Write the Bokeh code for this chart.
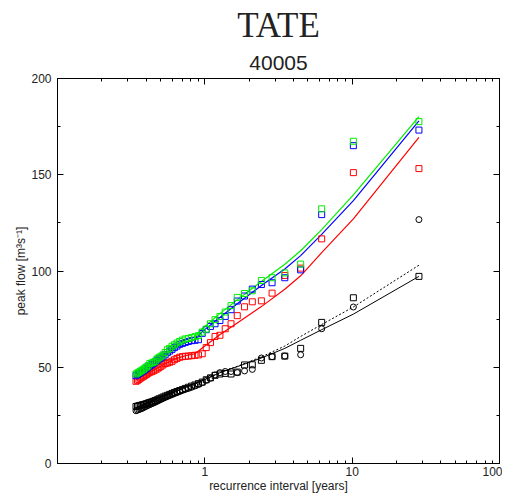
from bokeh.plotting import figure
from bokeh.models import FixedTicker, LinearAxis, LogAxis, Range1d, Title, BasicTickFormatter
from bokeh.embed import file_html
from bokeh.resources import INLINE

# recurrence interval [years] of each ranked peak
T = [28.39, 10.19, 6.21, 4.47, 3.49, 2.86, 2.42, 2.10, 1.86, 1.66,
     1.506, 1.375, 1.266, 1.173, 1.092, 1.022, 0.960, 0.905, 0.857, 0.813,
     0.773, 0.737, 0.705, 0.675, 0.647, 0.622, 0.599, 0.577, 0.557, 0.538,
     0.520, 0.504, 0.488, 0.474, 0.460, 0.447, 0.435, 0.423, 0.412, 0.402,
     0.392, 0.383, 0.374, 0.365, 0.357, 0.349, 0.341]

green_pts = [177.6, 167.4, 132.3, 103.6, 99.0, 96.5, 95.1, 89.7, 88.3, 86.3,
             82.0, 78.7, 76.4, 74.7, 72.6, 69.8, 68.3, 66.4, 65.9, 65.4,
             65.0, 64.7, 64.1, 63.4, 62.6, 61.7, 60.9, 59.8, 59.1, 57.7,
             56.4, 55.7, 55.0, 54.3, 53.1, 52.6, 52.2, 51.9, 50.8, 50.1,
             49.6, 48.9, 48.4, 47.9, 47.4, 47.0, 46.5]
blue_pts = [173.2, 165.1, 129.3, 100.6, 96.5, 93.9, 93.0, 90.6, 87.0, 84.4,
            79.9, 76.4, 74.3, 72.6, 71.2, 69.5, 67.6, 64.3, 64.0, 63.8,
            63.4, 62.9, 62.4, 61.9, 61.0, 60.2, 59.3, 58.4, 57.6, 56.5,
            55.7, 54.8, 54.3, 53.6, 52.7, 51.9, 51.3, 50.7, 50.1, 49.4,
            48.8, 48.2, 47.7, 47.2, 46.7, 46.2, 45.6]
red_pts = [153.2, 151.1, 116.7, 101.5, 97.7, 88.5, 84.5, 84.0, 81.4, 76.8,
           72.6, 70.0, 66.6, 66.0, 62.8, 60.2, 57.0, 56.4, 56.2, 56.0,
           55.8, 55.7, 55.5, 55.2, 54.6, 53.9, 53.1, 52.6, 52.2, 51.9,
           51.2, 50.5, 49.8, 49.1, 48.6, 48.1, 47.7, 47.4, 46.9, 46.3,
           45.8, 45.3, 44.8, 44.3, 43.7, 43.2, 42.7]
black_sq_pts = [97.2, 86.1, 73.3, 59.8, 55.8, 55.5, 53.6, 51.3, 51.2, 47.5,
                46.5, 46.8, 46.5, 45.8, 44.5, 43.5, 42.3, 41.5, 40.8, 40.2,
                39.6, 39.0, 38.4, 37.9, 37.4, 36.9, 36.4, 35.9, 35.4, 35.0,
                34.5, 34.0, 33.6, 33.1, 32.7, 32.3, 32.0, 31.7, 31.4, 31.1,
                30.8, 30.6, 30.4, 30.2, 30.0, 29.8, 29.6]
black_circ_pts = [126.7, 81.3, 70.0, 56.5, 55.8, 55.5, 54.8, 48.9, 48.1, 47.2,
                  47.8, 47.8, 47.2, 46.0, 44.3, 43.2, 42.0, 41.0, 40.3, 39.6,
                  39.0, 38.5, 38.0, 37.4, 36.8, 36.3, 35.8, 35.3, 34.8, 34.3,
                  33.8, 33.3, 32.8, 32.3, 31.8, 31.4, 31.0, 30.6, 30.2, 29.8,
                  29.4, 29.0, 28.6, 28.3, 28.0, 27.7, 27.4]

# fitted curves
T_fit = [28.39, 10.19, 6.21, 4.47, 3.49, 2.42, 1.66, 1.27, 0.96, 0.857,
         0.737, 0.622, 0.538, 0.474, 0.412, 0.341]
green_fit = [180.2, 139.5, 121.5, 110.5, 103.5, 94.5, 85.0, 78.0, 70.0, 65.8,
             64.0, 60.8, 57.0, 54.0, 50.5, 46.5]
blue_fit = [178.0, 136.6, 119.0, 108.0, 101.0, 92.5, 83.0, 76.0, 68.5, 64.3,
            62.8, 59.8, 56.0, 53.0, 49.5, 45.5]
red_fit = [169.4, 127.1, 109.5, 97.5, 90.5, 81.5, 73.0, 67.0, 60.0, 57.0,
           56.0, 54.2, 51.8, 49.5, 47.0, 43.5]
T_black_fit = [28.39, 10.19, 6.21, 4.47, 3.49, 2.42, 1.66, 1.27, 0.96, 0.737,
               0.538, 0.412, 0.341]
black_solid_fit = [97.2, 77.6, 69.5, 64.0, 59.8, 54.8, 50.3, 47.2, 43.0, 39.5,
                   35.3, 31.8, 29.0]
black_dotted_fit = [103.0, 81.3, 72.2, 66.0, 61.0, 55.4, 50.5, 47.3, 43.1, 39.5,
                    35.2, 31.6, 28.8]

y_ticks = [0, 50, 100, 150, 200]
y_minor = [25, 75, 125, 175]
x_ticks = [1, 10, 100]
x_minor = [0.2, 0.3, 0.4, 0.5, 0.6, 0.7, 0.8, 0.9,
           2, 3, 4, 5, 6, 7, 8, 9,
           20, 30, 40, 50, 60, 70, 80, 90]

GREEN = "#00ee00"
BLUE = "#0000ff"
RED = "#ff0000"
BLACK = "#000000"
FONT = "Liberation Sans"

p = figure(frame_width=442, frame_height=385, x_axis_type="log",
           x_range=Range1d(0.1, 100), y_range=Range1d(0, 200),
           output_backend="svg", toolbar_location=None, title=None,
           min_border_left=57, min_border_right=3, min_border_top=78,
           min_border_bottom=28)
p.grid.visible = False
p.outline_line_color = BLACK
p.outline_line_width = 1
p.background_fill_color = "white"
p.border_fill_color = "white"


def style_axis(ax, show_labels=True):
    ax.major_tick_in = 6
    ax.major_tick_out = 0
    ax.minor_tick_in = 3
    ax.minor_tick_out = 0
    ax.axis_line_color = BLACK
    ax.major_tick_line_color = BLACK
    ax.minor_tick_line_color = BLACK
    ax.major_label_text_font = FONT
    ax.major_label_text_font_size = "12px"
    ax.major_label_text_color = "#222222"
    ax.axis_label_text_font = FONT
    ax.axis_label_text_font_size = "12px"
    ax.axis_label_text_font_style = "normal"
    ax.axis_label_text_color = "#222222"
    if not show_labels:
        ax.major_label_text_font_size = "1px"
        ax.major_label_text_alpha = 0
        ax.major_label_standoff = 0


yt = FixedTicker(ticks=y_ticks, minor_ticks=y_minor)
xt = FixedTicker(ticks=x_ticks, minor_ticks=x_minor)

p.yaxis.ticker = yt
p.xaxis.ticker = xt
p.xaxis.formatter = BasicTickFormatter()
for ax in p.yaxis:
    style_axis(ax)
    ax.axis_label = "peak flow [m³s⁻¹]"
    ax.major_label_standoff = 6
    ax.axis_label_standoff = 0
for ax in p.xaxis:
    style_axis(ax)
    ax.axis_label = "recurrence interval [years]"
    ax.major_label_standoff = 3
    ax.axis_label_standoff = 0

ry = LinearAxis(ticker=FixedTicker(ticks=y_ticks, minor_ticks=y_minor))
style_axis(ry, show_labels=False)
p.add_layout(ry, "right")
tx = LogAxis(ticker=FixedTicker(ticks=x_ticks, minor_ticks=x_minor))
style_axis(tx, show_labels=False)
p.add_layout(tx, "above")

# titles
sub = Title(text="40005", align="center", text_font=FONT, text_font_size="21px",
            text_font_style="normal", text_color="#222222", standoff=18)
p.add_layout(sub, "above")
main = Title(text="TATE", align="center", text_font="Liberation Serif",
             text_font_size="35px", text_font_style="normal", text_color="#222222",
             standoff=0, text_line_height=0.8)
p.add_layout(main, "above")

# fitted lines
p.line(T_black_fit, black_dotted_fit, line_color=BLACK, line_width=1, line_dash="2 2")
p.line(T_black_fit, black_solid_fit, line_color=BLACK, line_width=1)
p.line(T_fit, red_fit, line_color=RED, line_width=1.2)
p.line(T_fit, blue_fit, line_color=BLUE, line_width=1.2)
p.line(T_fit, green_fit, line_color=GREEN, line_width=1.2)

# observed / simulated points
p.scatter(T, black_circ_pts, marker="circle", size=6, fill_color=None,
          line_color=BLACK, line_width=1)
p.scatter(T, black_sq_pts, marker="square", size=6, fill_color=None,
          line_color=BLACK, line_width=1)
p.scatter(T, red_pts, marker="square", size=6, fill_color=None,
          line_color=RED, line_width=1)
p.scatter(T, blue_pts, marker="square", size=6, fill_color=None,
          line_color=BLUE, line_width=1)
p.scatter(T, green_pts, marker="square", size=6, fill_color=None,
          line_color=GREEN, line_width=1)

open("out.html", "w").write(file_html(p, INLINE))
